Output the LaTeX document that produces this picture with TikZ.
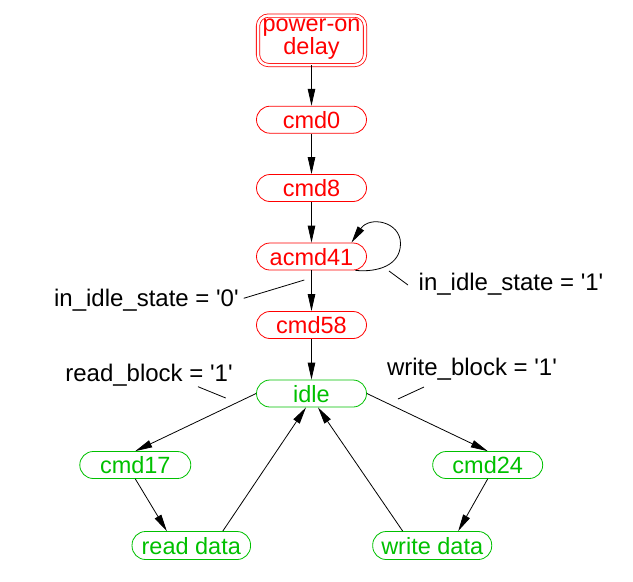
\documentclass[tikz,border=0pt]{standalone}
\usepackage{fontspec}
\setmainfont{Liberation Sans}
\usetikzlibrary{arrows.meta,calc}
\definecolor{sred}{RGB}{255,0,0}
\definecolor{sgreen}{RGB}{0,192,0}
\newcommand{\q}{\textquotesingle}
\begin{document}
\begin{tikzpicture}[x=1pt,y=-1pt,
  st/.style={draw, rounded corners=13.5pt, minimum height=27pt, minimum width=110pt, inner sep=0pt, line width=0.8pt, font=\fontsize{23.5}{20}\selectfont, text height=17pt, text depth=0pt},
  redst/.style={st, draw=sred, text=sred},
  greenst/.style={st, draw=sgreen, text=sgreen},
  arr/.style={-{Triangle[length=17pt,width=7.5pt]}, line width=0.8pt},
  lbl/.style={font=\fontsize{24}{20}\selectfont, inner sep=0pt, text height=17.2pt, text depth=0pt},
  note/.style={line width=0.8pt}
]
\useasboundingbox (0,0) rectangle (633,582);

\node[draw=sred, text=sred, double, double distance=2.5pt, line width=0.8pt, rounded corners=10.5pt,
      minimum width=107pt, minimum height=49.5pt, inner sep=0pt, align=center,
      font=\fontsize{23.5}{20}\selectfont, text height=33.5pt, text depth=4.5pt] (pod) at (311.5,40.3) {power-on\\delay};
\node[redst] (cmd0) at (311.5,119.7) {cmd0};
\node[redst] (cmd8) at (311.5,188) {cmd8};
\node[redst] (acmd41) at (311.5,256.5) {acmd41};
\node[redst] (cmd58) at (311.5,325) {cmd58};
\node[greenst] (idle) at (311.5,393.5) {idle};
\node[greenst, minimum width=111pt] (cmd17) at (135.3,465) {cmd17};
\node[greenst] (cmd24) at (487.7,465) {cmd24};
\node[greenst, minimum width=118.5pt, minimum height=28pt] (rd) at (191.3,545.5) {read data};
\node[greenst, minimum width=119pt, minimum height=28pt] (wd) at (432.2,545.5) {write data};

\draw[arr] (pod) -- (cmd0);
\draw[arr] (cmd0) -- (cmd8);
\draw[arr] (cmd8) -- (acmd41);
\draw[arr] (acmd41) -- (cmd58);
\draw[arr] (cmd58) -- (idle);
\draw[arr] ([xshift=44pt]acmd41.south)
  .. controls ($(acmd41.center)+(66,16)$) and ($(acmd41.center)+(89,9)$) .. ($(acmd41.center)+(89,-13)$)
  .. controls ($(acmd41.center)+(89,-35)$) and ($(acmd41.center)+(58,-41)$) .. ([xshift=40pt]acmd41.north);
\draw[arr] (idle.west) -- (cmd17.north);
\draw[arr] (idle.east) -- (cmd24.north);
\draw[arr] (cmd17.south) -- ([xshift=-24.5pt]rd.north);
\draw[arr] (cmd24.south) -- ([xshift=26pt]wd.north);
\draw[arr] ([xshift=31.5pt]rd.north) -- ([xshift=-5.5pt]idle.south);
\draw[arr] ([xshift=-29.5pt]wd.north) -- ([xshift=6.5pt]idle.south);

\coordinate (n0a) at (304.3,280);
\coordinate (n0b) at (243.7,298.3);
\coordinate (n1a) at (389,271);
\coordinate (n1b) at (408,285);
\coordinate (rba) at (198,386.7);
\coordinate (rbb) at (225.7,398);
\coordinate (wba) at (398,399);
\coordinate (wbb) at (424,387);
\draw[note] (n0a) -- (n0b);
\draw[note] (n1a) -- (n1b);
\draw[note] (rba) -- (rbb);
\draw[note] (wba) -- (wbb);

\node[lbl] (l0) at (146.4,298.3) {in\_idle\_state = \q0\q};
\node[lbl] (l1) at (511,282) {in\_idle\_state = \q1\q};
\node[lbl] (l2) at (149,372.5) {read\_block = \q1\q};
\node[lbl] (l3) at (472,367) {write\_block = \q1\q};
\end{tikzpicture}
\end{document}
